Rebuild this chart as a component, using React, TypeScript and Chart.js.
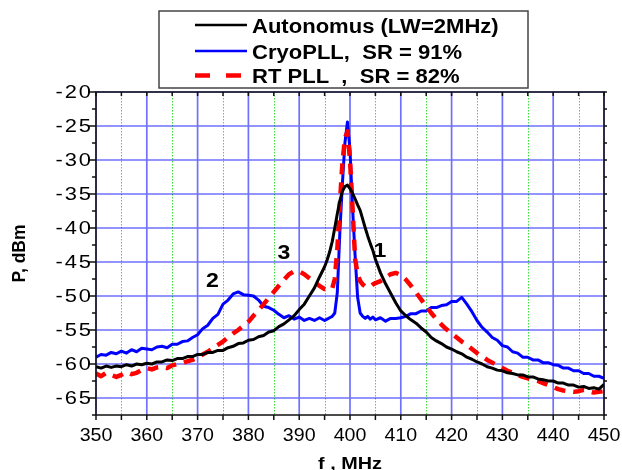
import React, { useEffect, useRef } from 'react';
import { Chart, registerables } from 'chart.js';

Chart.register(...registerables);

// Frequency, MHz
const freq = [
  350, 351, 352, 353, 354, 355, 356, 357, 358, 359,
  360, 361, 362, 363, 364, 365, 366, 367, 368, 369,
  370, 371, 372, 373, 374, 375, 376, 377, 378, 379,
  380, 381, 382, 383, 384, 385, 386, 387, 388, 389,
  390, 391, 392, 393, 394, 395,
  395.5, 396, 396.5, 397, 397.5, 398, 398.5, 399, 399.5, 400,
  400.5, 401, 401.5, 402, 402.5, 403, 403.5, 404, 404.5,
  405, 406, 407, 408, 409,
  410, 411, 412, 413, 414, 415, 416, 417, 418, 419,
  420, 421, 422, 423, 424, 425, 426, 427, 428, 429,
  430, 431, 432, 433, 434, 435, 436, 437, 438, 439,
  440, 441, 442, 443, 444, 445, 446, 447, 448, 449,
  450,
];

// Autonomus (LW=2MHz), dBm
const autonomus = [
  -60.4, -60.6, -60.3, -60.5, -60.3, -60.4, -60.1, -60.3, -60.0, -60.1,
  -59.9, -60.0, -59.7, -59.7, -59.4, -59.5, -59.2, -59.2, -58.9, -58.9,
  -58.6, -58.6, -58.3, -58.3, -58.0, -58.0, -57.6, -57.4, -57.0, -56.9,
  -56.5, -56.4, -56.0, -55.8, -55.3, -55.1, -54.5, -54.1, -53.5, -52.9,
  -52.0, -51.2, -50.0, -48.8, -47.2, -45.7,
  -44.7, -43.5, -42.0, -40.0, -37.9, -36.0, -34.6, -33.9, -33.7, -34.2,
  -34.9, -35.7, -36.6, -37.4, -38.7, -40.0, -41.2, -42.3, -43.3,
  -44.6, -46.6, -48.2, -49.6, -51.0,
  -52.2, -52.9, -53.5, -54.0, -54.7, -55.3, -56.1, -56.6, -57.0, -57.5,
  -57.8, -58.2, -58.5, -59.0, -59.3, -59.7, -60.0, -60.4, -60.6, -60.9,
  -61.0, -61.3, -61.4, -61.6, -61.6, -61.9, -61.9, -62.2, -62.3, -62.5,
  -62.5, -62.8, -62.8, -63.1, -63.1, -63.4, -63.3, -63.6, -63.5, -63.7,
  -63.0,
];

// CryoPLL, SR = 91%, dBm
const cryoPll = [
  -59.0, -58.6, -58.7, -58.3, -58.5, -58.1, -58.4, -57.9, -58.2, -57.7,
  -57.8, -57.9, -57.5, -57.4, -57.6, -57.1, -57.1, -56.7, -56.6, -56.1,
  -55.7, -54.8, -54.3, -53.3, -52.7, -51.2, -50.6, -49.7, -49.4, -49.8,
  -49.9, -50.0, -50.6, -51.5, -51.7, -52.1, -52.7, -53.2, -52.9, -53.4,
  -53.1, -53.6, -53.3, -53.6, -53.2, -53.6,
  -53.4, -53.2, -53.0, -52.5, -49.5, -40.7, -33.5, -27.5, -24.4, -28.5,
  -37.0, -44.0, -50.2, -52.5, -53.0, -53.3, -53.0, -53.4, -53.1,
  -53.5, -53.2, -53.7, -53.3, -53.3,
  -53.2, -53.0, -52.6, -52.6, -52.2, -52.2, -51.7, -51.7, -51.4, -51.3,
  -50.8, -50.8, -50.2, -51.2, -52.3, -53.6, -54.6, -55.3, -56.1, -56.5,
  -57.3, -57.5, -58.2, -58.4, -59.0, -59.0, -59.4, -59.4, -59.8, -59.8,
  -60.1, -60.2, -60.6, -60.6, -61.0, -61.0, -61.4, -61.4, -61.8, -61.8,
  -62.1,
];

// RT PLL, SR = 82%, dBm
const rtPll = [
  -61.4, -61.8, -61.3, -61.6, -61.9, -61.6, -61.2, -61.5, -61.3, -60.9,
  -60.6, -60.8, -60.5, -60.4, -60.6, -60.2, -60.0, -59.9, -59.6, -59.4,
  -59.0, -58.6, -58.2, -57.7, -57.2, -56.7, -56.1, -55.5, -55.0, -54.4,
  -53.8, -52.9, -52.1, -51.2, -50.3, -49.4, -48.5, -47.6, -46.8, -46.4,
  -46.4, -46.8, -47.4, -48.0, -48.5, -49.0,
  -49.1, -49.1, -48.9, -47.5, -43.2, -36.5, -30.5, -26.8, -25.8, -30.0,
  -37.0, -44.5, -46.8, -47.8, -48.3, -48.6, -48.7, -48.6, -48.3,
  -48.1, -47.8, -47.3, -46.8, -46.6,
  -46.9, -47.6, -48.5, -49.5, -50.5, -51.5, -52.5, -53.4, -54.2, -54.9,
  -55.5, -56.1, -56.7, -57.2, -57.8, -58.4, -58.9, -59.4, -59.8, -60.2,
  -60.6, -61.0, -61.3, -61.6, -61.9, -62.1, -62.3, -62.5, -62.8, -63.1,
  -63.4, -63.7, -63.9, -64.0, -64.1, -64.0, -63.8, -64.0, -64.2, -64.1,
  -64.0,
];

const xTicks = [350, 360, 370, 380, 390, 400, 410, 420, 430, 440, 450];
const xMinorTicks = [355, 365, 375, 385, 395, 405, 415, 425, 435, 445];
const yTicks = [-20, -25, -30, -35, -40, -45, -50, -55, -60, -65];
const yMinorTicks = [-22.5, -27.5, -32.5, -37.5, -42.5, -47.5, -52.5, -57.5, -62.5, -67.5];

const seriesLabels = ['Autonomus (LW=2MHz)', 'CryoPLL,  SR = 91%', 'RT PLL  ,  SR = 82%'];
const seriesColors = ['#000000', '#0000ff', '#ff0000'];

const annotationLabels = ['1', '2', '3'];
const annotationF = [405.9, 372.9, 387.0];
const annotationP = [-43.1, -47.5, -43.5];

const xTitle = 'f , MHz';
const yTitle = 'P, dBm';

const FONT = '"Liberation Sans", Arial, Helvetica, sans-serif';

function drawText(
  ctx: CanvasRenderingContext2D,
  text: string,
  x: number,
  y: number,
  font: string,
  align: CanvasTextAlign,
  sx: number,
  ls: number,
) {
  ctx.save();
  ctx.translate(x, y);
  ctx.scale(sx, 1);
  ctx.font = font;
  (ctx as any).letterSpacing = ls + 'px';
  ctx.textAlign = align;
  ctx.textBaseline = 'alphabetic';
  ctx.fillStyle = '#000';
  ctx.fillText(text, 0, 0);
  ctx.restore();
}

const decorPlugin = {
  id: 'decor',
  beforeDatasetsDraw(chart: any) {
    const { ctx, chartArea: a, scales } = chart;
    const x = scales.x;
    const y = scales.y;
    ctx.save();
    // minor green dotted verticals
    ctx.strokeStyle = 'rgba(40,220,40,0.9)';
    ctx.lineWidth = 1;
    ctx.setLineDash([1.5, 1.5]);
    ctx.beginPath();
    xMinorTicks.forEach((v) => {
      const px = Math.round(x.getPixelForValue(v)) + 0.5;
      ctx.moveTo(px, a.top);
      ctx.lineTo(px, a.bottom);
    });
    ctx.stroke();
    ctx.setLineDash([]);
    // major blue grid
    ctx.strokeStyle = 'rgba(0,0,255,0.56)';
    ctx.lineWidth = 1.7;
    ctx.beginPath();
    xTicks.forEach((v) => {
      const px = x.getPixelForValue(v);
      ctx.moveTo(px, a.top);
      ctx.lineTo(px, a.bottom);
    });
    yTicks.forEach((v) => {
      const py = y.getPixelForValue(v);
      ctx.moveTo(a.left, py);
      ctx.lineTo(a.right, py);
    });
    ctx.stroke();
    ctx.restore();
  },
  afterDatasetsDraw(chart: any) {
    const { ctx, chartArea: a, scales } = chart;
    const x = scales.x;
    const y = scales.y;
    ctx.save();
    ctx.strokeStyle = '#111';
    ctx.lineWidth = 1.5;
    ctx.strokeRect(a.left, a.top, a.right - a.left, a.bottom - a.top);
    ctx.beginPath();
    // bottom ticks (outward) and top ticks (inward)
    [...xTicks, ...xMinorTicks].forEach((v) => {
      const px = x.getPixelForValue(v);
      ctx.moveTo(px, a.bottom);
      ctx.lineTo(px, a.bottom + 5);
      ctx.moveTo(px, a.top);
      ctx.lineTo(px, a.top + 4);
    });
    // left and right ticks
    yTicks.forEach((v) => {
      const py = y.getPixelForValue(v);
      ctx.moveTo(a.left, py);
      ctx.lineTo(a.left - 8, py);
      ctx.moveTo(a.right, py);
      ctx.lineTo(a.right + 3, py);
    });
    yMinorTicks.forEach((v) => {
      const py = y.getPixelForValue(v);
      ctx.moveTo(a.left, py);
      ctx.lineTo(a.left - 4, py);
      ctx.moveTo(a.right, py);
      ctx.lineTo(a.right + 3, py);
    });
    ctx.stroke();
    ctx.restore();

    // tick labels
    xTicks.forEach((v) => {
      drawText(ctx, String(v), x.getPixelForValue(v), a.bottom + 26, '17.5px ' + FONT, 'center', 1.12, 0);
    });
    yTicks.forEach((v) => {
      drawText(ctx, String(v), a.left - 3, y.getPixelForValue(v) + 6.3, '17.5px ' + FONT, 'right', 1.25, 1.6);
    });

    // axis titles
    drawText(ctx, xTitle, (a.left + a.right) / 2, 469, 'bold 16.5px ' + FONT, 'center', 1.2, 0);
    ctx.save();
    ctx.translate(25, (a.top + a.bottom) / 2);
    ctx.rotate(-Math.PI / 2);
    ctx.font = 'bold 17.5px ' + FONT;
    ctx.textAlign = 'center';
    ctx.textBaseline = 'alphabetic';
    ctx.fillStyle = '#000';
    ctx.fillText(yTitle, 0, 0);
    ctx.restore();

    // annotations
    annotationLabels.forEach((t, i) => {
      drawText(ctx, t, x.getPixelForValue(annotationF[i]), y.getPixelForValue(annotationP[i]) + 7.5, 'bold 21px ' + FONT, 'center', 1.1, 0);
    });

    // legend
    ctx.save();
    ctx.fillStyle = '#fff';
    ctx.fillRect(159, 11, 369, 77);
    ctx.strokeStyle = '#444';
    ctx.lineWidth = 1.5;
    ctx.strokeRect(159, 11, 369, 77);
    const lineY = [25, 51, 75.5];
    const baseY = [32.7, 59.3, 82.7];
    seriesLabels.forEach((lbl, i) => {
      ctx.beginPath();
      ctx.strokeStyle = seriesColors[i];
      if (i === 2) {
        ctx.lineWidth = 4.5;
        ctx.setLineDash([15, 16]);
        ctx.moveTo(195, lineY[i]);
        ctx.lineTo(242, lineY[i]);
      } else {
        ctx.lineWidth = 2.5;
        ctx.setLineDash([]);
        ctx.moveTo(195, lineY[i]);
        ctx.lineTo(247, lineY[i]);
      }
      ctx.stroke();
      ctx.setLineDash([]);
      drawText(ctx, lbl, 252, baseY[i], 'bold 19.5px ' + FONT, 'left', 1.13, 0);
    });
    ctx.restore();
  },
};

export default function App() {
  const canvasRef = useRef<HTMLCanvasElement | null>(null);

  useEffect(() => {
    const canvas = canvasRef.current;
    if (!canvas) return;
    const toPoints = (vals: number[]) => freq.map((f, i) => ({ x: f, y: vals[i] }));
    const chart = new Chart(canvas, {
      type: 'line',
      data: {
        datasets: [
          {
            label: seriesLabels[0],
            data: toPoints(autonomus),
            borderColor: seriesColors[0],
            borderWidth: 3,
            pointRadius: 0,
            tension: 0,
            borderJoinStyle: 'round',
            order: 0,
          },
          {
            label: seriesLabels[1],
            data: toPoints(cryoPll),
            borderColor: seriesColors[1],
            borderWidth: 3,
            pointRadius: 0,
            tension: 0,
            borderJoinStyle: 'round',
            order: 2,
          },
          {
            label: seriesLabels[2],
            data: toPoints(rtPll),
            borderColor: seriesColors[2],
            borderWidth: 4.5,
            borderDash: [11, 8],
            pointRadius: 0,
            tension: 0,
            borderJoinStyle: 'round',
            order: 1,
          },
        ],
      },
      options: {
        responsive: false,
        maintainAspectRatio: false,
        devicePixelRatio: 1,
        animation: false,
        layout: { padding: { top: 92, right: 18, left: 0, bottom: 0 } },
        plugins: { legend: { display: false }, tooltip: { enabled: false } },
        scales: {
          x: {
            type: 'linear',
            min: 350,
            max: 450,
            grid: { display: false },
            border: { display: false },
            ticks: { display: false, stepSize: 10 },
            afterFit: (s: any) => {
              s.height = 55;
            },
          },
          y: {
            type: 'linear',
            min: -67.5,
            max: -20,
            grid: { display: false },
            border: { display: false },
            ticks: { display: false, stepSize: 5 },
            afterFit: (s: any) => {
              s.width = 96;
            },
          },
        },
      },
      plugins: [decorPlugin],
    } as any);
    return () => chart.destroy();
  }, []);

  return (
    <div style={{ position: 'fixed', left: 0, top: 0, width: 622, height: 470, background: '#fff' }}>
      <canvas ref={canvasRef} width={622} height={470} style={{ display: 'block' }} />
    </div>
  );
}
